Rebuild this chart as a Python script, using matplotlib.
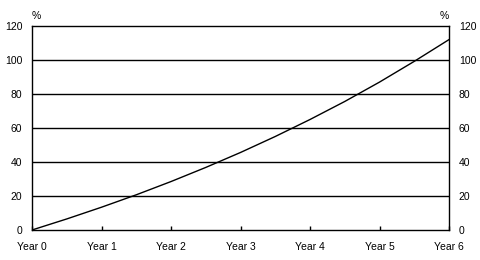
import matplotlib
matplotlib.use("Agg")
import matplotlib.pyplot as plt

plt.rcParams['font.family'] = ['Liberation Sans', 'DejaVu Sans']

# Data (half-year steps)
years = [0, 0.5, 1, 1.5, 2, 2.5, 3, 3.5, 4, 4.5, 5, 5.5, 6]
values = [0, 6.5, 13.4, 20.7, 28.5, 36.8, 45.6, 55.0, 65.0, 75.6, 87.0, 99.2, 112.0]
tick_pos = [0, 1, 2, 3, 4, 5, 6]
tick_labels = ["Year 0", "Year 1", "Year 2", "Year 3", "Year 4", "Year 5", "Year 6"]
y_ticks = [0, 20, 40, 60, 80, 100, 120]

fig = plt.figure(figsize=(4.8, 2.6), dpi=100)
ax = fig.add_axes([32 / 480, 30 / 260, 417 / 480, 204 / 260])

for v in y_ticks[1:-1]:
    ax.axhline(v, color='black', linewidth=1.0, zorder=1)
ax.plot(years, values, color='black', linewidth=1.0, zorder=2)

ax.set_xlim(0, 6)
ax.set_ylim(0, 120)
ax.set_xticks(tick_pos)
ax.set_xticklabels(tick_labels, fontsize=7.5)
ax.set_yticks(y_ticks)
ax.set_yticklabels([str(v) for v in y_ticks], fontsize=7.5)
ax.tick_params(axis='x', direction='in', length=3, width=1, pad=9)
ax.tick_params(axis='y', length=0, pad=7, labelright=True, right=False)
for s in ax.spines.values():
    s.set_linewidth(1.0)

fig.text(36 / 480, 1 - 16 / 260, "%", fontsize=7.5, ha='center', va='center')
fig.text(444 / 480, 1 - 16 / 260, "%", fontsize=7.5, ha='center', va='center')

fig.savefig("out.png", dpi=100)
